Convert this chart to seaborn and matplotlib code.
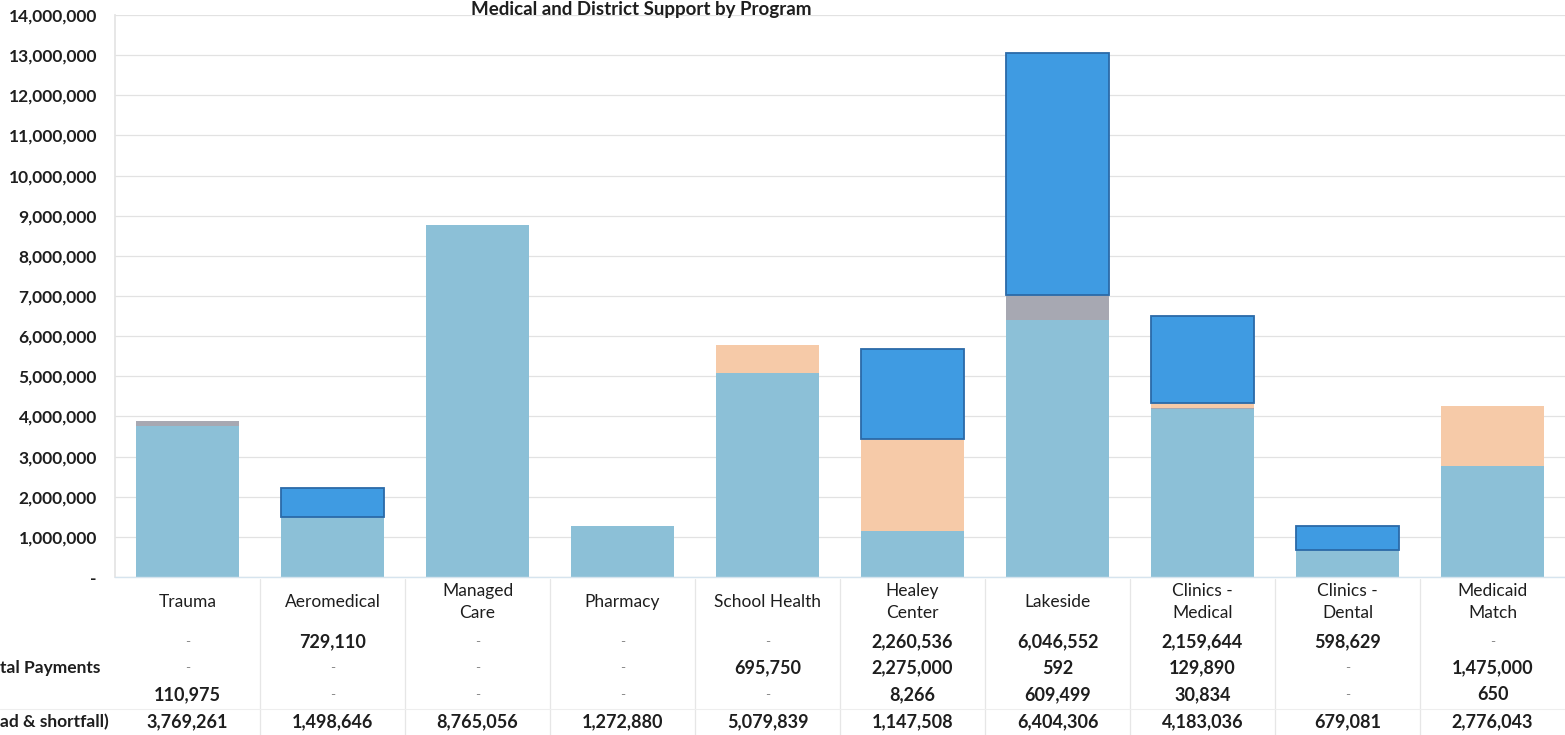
import matplotlib
matplotlib.use("Agg")
import matplotlib.pyplot as plt
import matplotlib.transforms as mtransforms
from matplotlib.ticker import FuncFormatter, MultipleLocator
import numpy as np
import pandas as pd
import seaborn as sns

# Programs (column headers of the data table)
programs = ["Trauma", "Aeromedical", "Managed\nCare", "Pharmacy", "School Health",
            "Healey\nCenter", "Lakeside", "Clinics -\nMedical", "Clinics -\nDental",
            "Medicaid\nMatch"]

# Series, listed top row of the table first
top_support = [0, 729110, 0, 0, 0, 2260536, 6046552, 2159644, 598629, 0]
capital_payments = [0, 0, 0, 0, 695750, 2275000, 592, 129890, 0, 1475000]
other_support = [110975, 0, 0, 0, 0, 8266, 609499, 30834, 0, 650]
bad_debt_shortfall = [3769261, 1498646, 8765056, 1272880, 5079839, 1147508,
                      6404306, 4183036, 679081, 2776043]

row_labels = ["", "tal Payments", "", "ad & shortfall)"]
series_rows = [top_support, capital_payments, other_support, bad_debt_shortfall]

title_text = "Medical and District Support by Program"

# Stacking order, bottom to top, with fills
stack = [
    (bad_debt_shortfall, "#8cc0d7", "none"),
    (other_support, "#a7a8b2", "none"),
    (capital_payments, "#f6caa8", "none"),
    (top_support, "#3f9be2", "#2b6aa8"),
]

sns.set_theme(style="white")
plt.rcParams["font.family"] = ["Lato", "DejaVu Sans"]

fig = plt.figure(figsize=(15.65, 7.35), dpi=100)
W, H = 1565, 735
ax_left, ax_right, ax_top, ax_bottom = 115, 1565, 15, 577
ax = fig.add_axes([ax_left / W, 1 - ax_bottom / H,
                   (ax_right - ax_left) / W, (ax_bottom - ax_top) / H])

df = pd.DataFrame({"program": programs})
bottom = np.zeros(len(programs))
for values, face, edge in stack:
    vals = np.array(values, dtype=float)
    sns.barplot(x=df["program"], y=vals, order=programs, color=face,
                saturation=1, width=0.71, bottom=bottom, ax=ax,
                edgecolor=edge, linewidth=1.3 if edge != "none" else 0)
    # empty segments get no outline
    for patch, v in zip(ax.containers[-1], vals):
        if v == 0:
            patch.set_visible(False)
    bottom = bottom + vals

ax.set_ylim(0, 14_000_000)
ax.set_xlim(-0.5, len(programs) - 0.5)
ax.yaxis.set_major_locator(MultipleLocator(1_000_000))
ax.yaxis.set_major_formatter(FuncFormatter(lambda v, p: "-" if v == 0 else f"{v:,.0f}"))
ax.tick_params(axis="y", labelsize=12.5, labelcolor="#1e1e1e", length=0, pad=13)
for lbl in ax.get_yticklabels():
    lbl.set_fontweight("bold")
ax.set_xlabel("")
ax.set_ylabel("")
ax.set_xticks([])
ax.grid(axis="y", color="#e2e2e2", linewidth=0.9)
ax.set_axisbelow(True)
for side in ["top", "right"]:
    ax.spines[side].set_visible(False)
ax.spines["left"].set_color("#e4e4e4")
ax.spines["bottom"].set_color("#d6e4ee")
ax.spines["bottom"].set_linewidth(1.0)

# Data table under the bars
trans = mtransforms.blended_transform_factory(ax.transData, fig.transFigure)
def fy(px):
    return 1 - px / H

for i, name in enumerate(programs):
    ax.text(i, fy(602), name, transform=trans, ha="center", va="center",
            fontsize=12.5, color="#1e1e1e", linespacing=1.5)
row_y = [642, 668, 695, 722]
for r, (label, values) in enumerate(zip(row_labels, series_rows)):
    if label:
        fig.text(0.0, fy(row_y[r]), label, ha="left", va="center",
                 fontsize=12.5, fontweight="bold", color="#1e1e1e")
    for i, v in enumerate(values):
        txt = f"{v:,.0f}" if v else "-"
        ax.text(i, fy(row_y[r]), txt, transform=trans, ha="center", va="center",
                fontsize=13 if v else 10, color="#1e1e1e" if v else "#888888",
                fontweight="bold" if v else "normal")

for k in range(1, len(programs)):
    ax.plot([k - 0.5, k - 0.5], [fy(579), fy(735)], transform=trans,
            color="#e6e6e6", linewidth=0.9, clip_on=False)
fig.add_artist(plt.Line2D([0, 1], [fy(709), fy(709)], color="#eeeeee", linewidth=0.8))

fig.text(0.41, 0.999, title_text, ha="center", va="top", fontsize=13.5,
         fontweight="bold", color="#1e1e1e")

fig.savefig("out.png", dpi=100, facecolor="white")
